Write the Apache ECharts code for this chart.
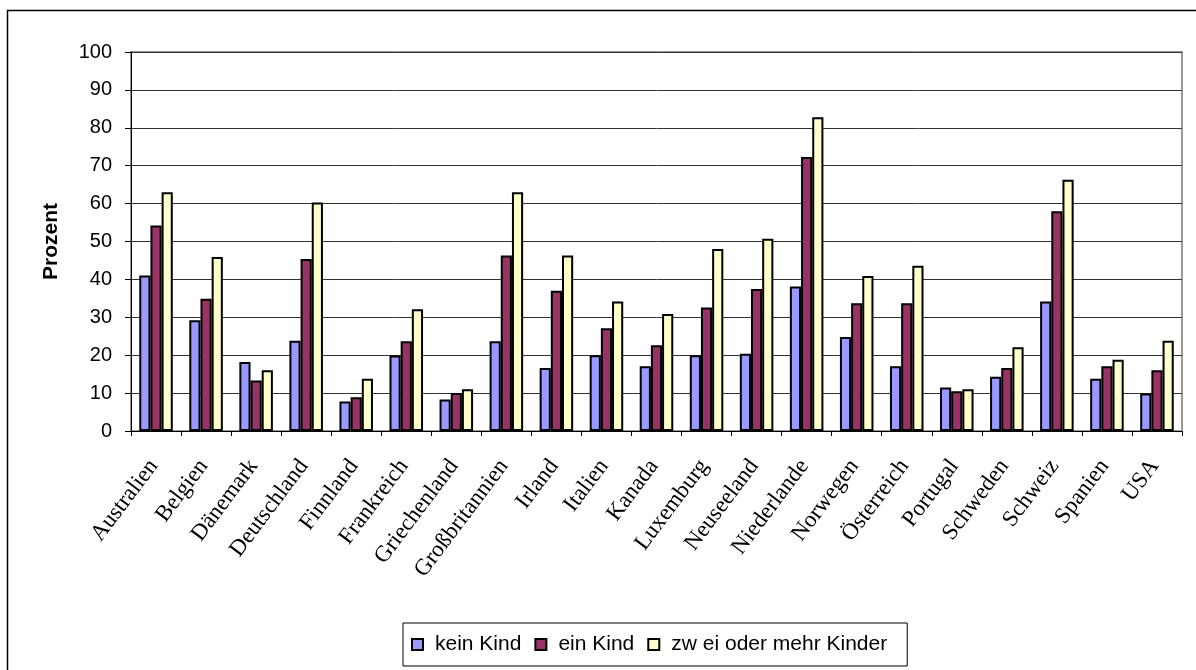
<!DOCTYPE html>
<html>
<head>
<meta charset="utf-8">
<script src="https://cdn.jsdelivr.net/npm/echarts@6/dist/echarts.min.js"></script>
<style>
  html, body { margin: 0; padding: 0; background: #fff; }
  #chart { width: 1196px; height: 670px; }
</style>
</head>
<body>
<div id="chart"></div>
<script>
// Länder
const countries = ['Australien', 'Belgien', 'Dänemark', 'Deutschland', 'Finnland', 'Frankreich',
  'Griechenland', 'Großbritannien', 'Irland', 'Italien', 'Kanada', 'Luxemburg', 'Neuseeland',
  'Niederlande', 'Norwegen', 'Österreich', 'Portugal', 'Schweden', 'Schweiz', 'Spanien', 'USA'];
// Prozentwerte je Gruppe
const keinKind = [41, 29.2, 18.2, 23.8, 7.8, 19.9, 8.3, 23.7, 16.6, 20, 17.1, 20, 20.4,
  38.1, 24.8, 17.1, 11.5, 14.3, 34.2, 13.8, 9.9];
const einKind = [54.2, 34.9, 13.3, 45.4, 8.9, 23.7, 10, 46.3, 37, 27.1, 22.6, 32.6, 37.5,
  72.3, 33.7, 33.7, 10.5, 16.6, 58, 17.1, 16];
const zweiKinder = [63, 45.9, 16, 60.3, 13.8, 32.1, 11, 63, 46.3, 34.2, 30.9, 48, 50.7,
  82.8, 40.9, 43.6, 11, 22.1, 66.3, 18.8, 23.8];
const seriesNames = ['kein Kind', 'ein Kind', 'zw ei oder mehr Kinder'];
const yTicks = { min: 0, max: 100, interval: 10 };

const chart = echarts.init(document.getElementById('chart'));

function barSeries(name, data, color) {
  return {
    name: name,
    type: 'bar',
    data: data,
    barGap: '0%',
    barCategoryGap: '33%',
    itemStyle: { color: color, borderColor: '#000', borderWidth: 2 }
  };
}

const option = {
  animation: false,
  textStyle: { fontFamily: 'Liberation Sans' },
  graphic: [{
    type: 'rect',
    shape: { x: 7.5, y: 10.5, width: 1400, height: 1000 },
    style: { fill: 'none', stroke: '#000', lineWidth: 1.5 },
    silent: true
  }],
  grid: {
    left: 131, right: 14, top: 52, bottom: 239,
    show: true, borderColor: '#999', borderWidth: 2, backgroundColor: 'transparent'
  },
  legend: {
    left: 403, top: 623,
    padding: [11, 20, 11, 8],
    borderColor: '#000', borderWidth: 1,
    itemWidth: 11, itemHeight: 11, itemGap: 13,
    icon: 'rect',
    textStyle: { fontFamily: 'Liberation Sans', fontSize: 21, color: '#000', padding: [0, 0, 0, 7] },
    data: seriesNames
  },
  xAxis: {
    type: 'category',
    data: countries,
    axisLine: { lineStyle: { color: '#000', width: 1 } },
    axisTick: { show: true, length: 5, lineStyle: { color: '#000' } },
    axisLabel: {
      interval: 0, rotate: 53, margin: 28, padding: [0, 4, 0, 0],
      fontFamily: 'Liberation Serif', fontSize: 23, color: '#000'
    }
  },
  yAxis: {
    type: 'value',
    min: yTicks.min, max: yTicks.max, interval: yTicks.interval,
    name: 'Prozent',
    nameLocation: 'middle',
    nameRotate: 90,
    nameGap: 69,
    nameTextStyle: { fontFamily: 'Liberation Sans', fontSize: 21, fontWeight: 'bold', color: '#000' },
    axisLine: { show: true, lineStyle: { color: '#000', width: 1 } },
    axisTick: { show: true, length: 6, lineStyle: { color: '#000' } },
    axisLabel: { margin: 19, fontFamily: 'Liberation Sans', fontSize: 20, color: '#000' },
    splitLine: { lineStyle: { color: '#333', width: 1 } }
  },
  series: [
    barSeries(seriesNames[0], keinKind, '#9999FF'),
    barSeries(seriesNames[1], einKind, '#993366'),
    barSeries(seriesNames[2], zweiKinder, '#FFFFCC')
  ]
};
chart.setOption(option);
</script>
</body>
</html>
